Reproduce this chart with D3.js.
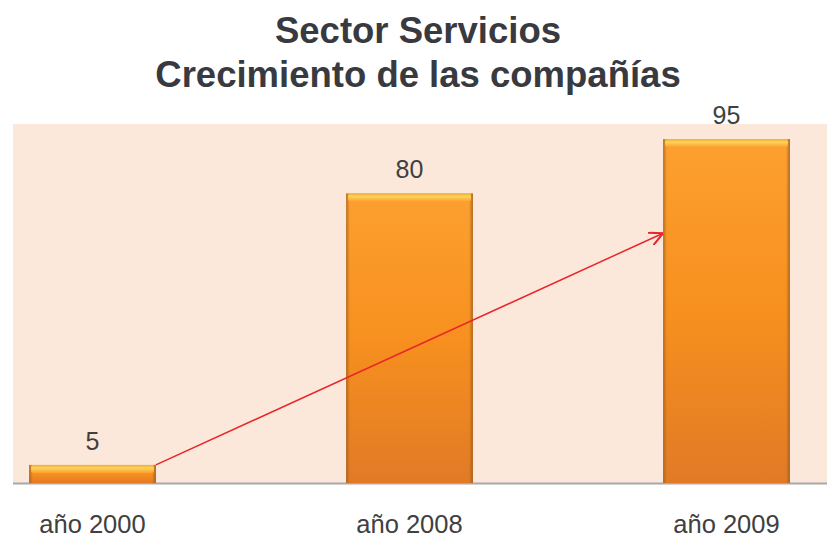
<!DOCTYPE html>
<html>
<head>
<meta charset="utf-8">
<script src="https://cdn.jsdelivr.net/npm/d3@7"></script>
<style>
  body { margin: 0; background: #fff; }
  text { font-family: "Liberation Sans", Arial, sans-serif; }
</style>
</head>
<body>
<svg id="chart"></svg>
<script>
var categories = ["año 2000", "año 2008", "año 2009"]
var values = [5, 80, 95]
var titleLines = ["Sector Servicios", "Crecimiento de las compañías"]
// arrow: from top right of first bar to left side of last bar
var arrowFrom = {cat: 0, value: 5}
var arrowTo = {cat: 2, value: 69}

var width = 827, height = 538
var panel = {left: 13, right: 827, top: 124, bottom: 483}

var svg = d3.select("#chart")
    .attr("width", width)
    .attr("height", height)

var x = d3.scaleBand()
    .domain(categories)
    .range([-66, 885])
    .paddingInner(0.6)
    .paddingOuter(0.3)

var y = d3.scaleLinear()
    .domain([0, 100])
    .range([panel.bottom, 121])

var defs = svg.append("defs")
var grad = defs.append("linearGradient")
    .attr("id", "barfill")
    .attr("x1", 0).attr("x2", 0).attr("y1", 0).attr("y2", 1)
grad.append("stop").attr("offset", "0%").attr("stop-color", "#fca030")
grad.append("stop").attr("offset", "50%").attr("stop-color", "#f7901e")
grad.append("stop").attr("offset", "100%").attr("stop-color", "#e17a26")

var side = defs.append("linearGradient")
    .attr("id", "sidefill")
    .attr("x1", 0).attr("x2", 1).attr("y1", 0).attr("y2", 0)
side.append("stop").attr("offset", "0%").attr("stop-color", "#9a5a1e").attr("stop-opacity", 0.7)
side.append("stop").attr("offset", "3%").attr("stop-color", "#9a5a1e").attr("stop-opacity", 0)
side.append("stop").attr("offset", "97%").attr("stop-color", "#9a5a1e").attr("stop-opacity", 0)
side.append("stop").attr("offset", "100%").attr("stop-color", "#9a5a1e").attr("stop-opacity", 0.8)

var cap = defs.append("linearGradient")
    .attr("id", "capfill")
    .attr("x1", 0).attr("x2", 0).attr("y1", 0).attr("y2", 1)
cap.append("stop").attr("offset", "0%").attr("stop-color", "#f0b030")
cap.append("stop").attr("offset", "40%").attr("stop-color", "#ffd25a")
cap.append("stop").attr("offset", "100%").attr("stop-color", "#fca030")

defs.append("marker")
    .attr("id", "arrowhead")
    .attr("viewBox", "0 0 10 10")
    .attr("refX", 10).attr("refY", 5)
    .attr("markerWidth", 14).attr("markerHeight", 14)
    .attr("markerUnits", "userSpaceOnUse")
    .attr("orient", "auto")
    .append("path")
    .attr("d", "M0,0 L10,5 L0,10")
    .attr("fill", "none")
    .attr("stroke", "#e8262a")
    .attr("stroke-width", 1.5)

// title
svg.append("g").selectAll("text")
    .data(titleLines)
    .enter()
    .append("text")
    .attr("x", 418)
    .attr("y", function(d, i){ return 43 + i * 44 })
    .attr("text-anchor", "middle")
    .attr("font-size", "36.5px")
    .attr("font-weight", "bold")
    .attr("fill", "#383a3f")
    .text(function(d){ return d })

// plot background
svg.append("rect")
    .attr("x", panel.left)
    .attr("y", panel.top)
    .attr("width", panel.right - panel.left)
    .attr("height", panel.bottom - panel.top)
    .attr("fill", "#fce8db")

// baseline
svg.append("line")
    .attr("x1", panel.left).attr("x2", panel.right)
    .attr("y1", y(0) + 0.5).attr("y2", y(0) + 0.5)
    .attr("stroke", "#a8a8a8")
    .attr("stroke-width", 2)

// bars
var bars = svg.append("g").selectAll("g")
    .data(values)
    .enter()
    .append("g")

bars.append("rect")
    .attr("x", function(d, i){ return x(categories[i]) })
    .attr("y", function(d){ return y(d) })
    .attr("width", x.bandwidth())
    .attr("height", function(d){ return y(0) - y(d) })
    .attr("fill", "url(#barfill)")

bars.append("rect")
    .attr("x", function(d, i){ return x(categories[i]) })
    .attr("y", function(d){ return y(d) })
    .attr("width", x.bandwidth())
    .attr("height", function(d){ return y(0) - y(d) })
    .attr("fill", "url(#sidefill)")

bars.append("rect")
    .attr("x", function(d, i){ return x(categories[i]) + 2 })
    .attr("y", function(d){ return y(d) })
    .attr("width", x.bandwidth() - 4)
    .attr("height", 8)
    .attr("rx", 2)
    .attr("fill", "url(#capfill)")

// value labels
svg.append("g").selectAll("text")
    .data(values)
    .enter()
    .append("text")
    .attr("x", function(d, i){ return x(categories[i]) + x.bandwidth() / 2 })
    .attr("y", function(d){ return y(d) - 15 })
    .attr("text-anchor", "middle")
    .attr("font-size", "25px")
    .attr("fill", "#404040")
    .text(function(d){ return d })

// category labels
svg.append("g").selectAll("text")
    .data(categories)
    .enter()
    .append("text")
    .attr("x", function(d){ return x(d) + x.bandwidth() / 2 })
    .attr("y", 533)
    .attr("text-anchor", "middle")
    .attr("font-size", "25.5px")
    .attr("fill", "#404040")
    .text(function(d){ return d })

// arrow
svg.append("line")
    .attr("x1", x(categories[arrowFrom.cat]) + x.bandwidth())
    .attr("y1", y(arrowFrom.value))
    .attr("x2", x(categories[arrowTo.cat]))
    .attr("y2", y(arrowTo.value))
    .attr("stroke", "#e8262a")
    .attr("stroke-width", 1.5)
    .attr("marker-end", "url(#arrowhead)")
</script>
</body>
</html>
